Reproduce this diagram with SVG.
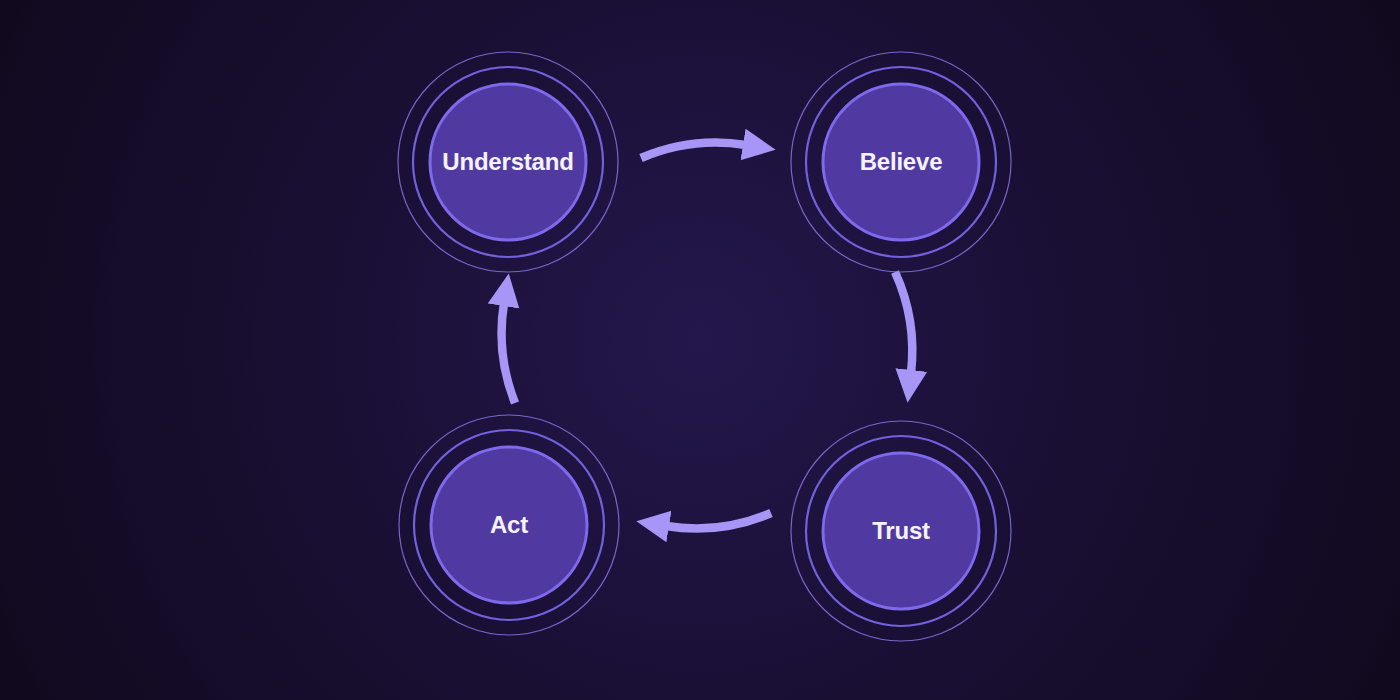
<svg xmlns="http://www.w3.org/2000/svg" width="1400" height="700" viewBox="0 0 1400 700">
  <defs>
    <radialGradient id="bg" cx="700" cy="340" r="760" gradientUnits="userSpaceOnUse">
      <stop offset="0" stop-color="#24174c"/>
      <stop offset="0.45" stop-color="#1a1036"/>
      <stop offset="1" stop-color="#110a1f"/>
    </radialGradient>
    <marker id="head" markerUnits="userSpaceOnUse" markerWidth="36" markerHeight="36" viewBox="0 -18 36 36" refX="3" refY="0" orient="auto">
      <path d="M0,-16 L33,0 L0,16 z" fill="#a796f6"/>
    </marker>
    <style>
      .outer { fill: none; stroke: #8675e4; stroke-width: 1.2; opacity: 0.85; }
      .mid { fill: none; stroke: #7360dc; stroke-width: 2.2; }
      .core { fill: #503aa2; stroke: #7f69ec; stroke-width: 3; }
      .label { font-family: "Liberation Sans", Arial, sans-serif; font-weight: bold; font-size: 24px; fill: #f6f3ff; text-anchor: middle; letter-spacing: -0.2px; }
      .arrow { fill: none; stroke: #a796f6; stroke-width: 8.5; stroke-linecap: butt; marker-end: url(#head); }
    </style>
  </defs>
  <rect width="1400" height="700" fill="url(#bg)"/>

  <g id="connectors">
    <path class="arrow" d="M641,158 A190,190 0 0 1 746,145"/>
    <path class="arrow" d="M895,272 A190,190 0 0 1 911,373"/>
    <path class="arrow" d="M771,513 A190,190 0 0 1 666,526"/>
    <path class="arrow" d="M515,403 A190,190 0 0 1 504,303"/>
  </g>

  <g id="node-understand">
    <circle class="outer" cx="508" cy="162" r="110"/>
    <circle class="mid" cx="508" cy="162" r="95"/>
    <circle class="core" cx="508" cy="162" r="78"/>
    <text class="label" x="508" y="170">Understand</text>
  </g>
  <g id="node-believe">
    <circle class="outer" cx="901" cy="162" r="110"/>
    <circle class="mid" cx="901" cy="162" r="95"/>
    <circle class="core" cx="901" cy="162" r="78"/>
    <text class="label" x="901" y="170">Believe</text>
  </g>
  <g id="node-trust">
    <circle class="outer" cx="901" cy="531" r="110"/>
    <circle class="mid" cx="901" cy="531" r="95"/>
    <circle class="core" cx="901" cy="531" r="78"/>
    <text class="label" x="901" y="539">Trust</text>
  </g>
  <g id="node-act">
    <circle class="outer" cx="509" cy="525" r="110"/>
    <circle class="mid" cx="509" cy="525" r="95"/>
    <circle class="core" cx="509" cy="525" r="78"/>
    <text class="label" x="509" y="533">Act</text>
  </g>
</svg>
